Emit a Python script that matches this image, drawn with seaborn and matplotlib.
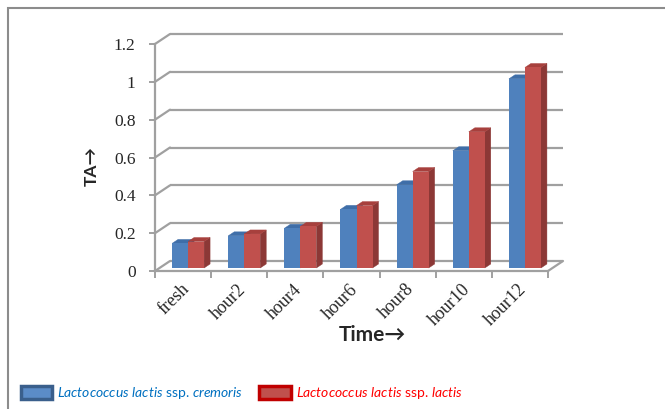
import numpy as np
import pandas as pd
import matplotlib
matplotlib.use('Agg')
import matplotlib.pyplot as plt
import matplotlib.transforms as mtransforms
import seaborn as sns
from matplotlib.patches import Polygon, Patch, Rectangle

# ============== data ==============
times = ['fresh', 'hour2', 'hour4', 'hour6', 'hour8', 'hour10', 'hour12']
cremoris = [0.13, 0.17, 0.21, 0.31, 0.44, 0.62, 1.00]
lactis = [0.14, 0.18, 0.22, 0.33, 0.51, 0.72, 1.06]
strains = ['cremoris', 'lactis']
yticks = [0, 0.2, 0.4, 0.6, 0.8, 1, 1.2]
ytick_labels = ['0', '0.2', '0.4', '0.6', '0.8', '1', '1.2']

df = pd.DataFrame({
    'time': times * 2,
    'TA': cremoris + lactis,
    'strain': ['cremoris'] * len(times) + ['lactis'] * len(times),
})

front = {'cremoris': '#4F81BD', 'lactis': '#C0504D'}
side = {'cremoris': '#385D8A', 'lactis': '#8C3836'}
top = {'cremoris': '#3F6EA8', 'lactis': '#A7403D'}
grid_c = '#A0A0A0'

sns.set_style('white')
plt.rcParams['mathtext.fontset'] = 'custom'
plt.rcParams['mathtext.it'] = 'Lato:italic'
plt.rcParams['mathtext.rm'] = 'Lato'

W, H = 665, 409
fig = plt.figure(figsize=(W / 100, H / 100), dpi=100)

# front plane of the pseudo-3D box, in pixels
x0, x1, y0, y1 = 155, 548, 271, 44
ax = fig.add_axes([x0 / W, 1 - y0 / H, (x1 - x0) / W, (y0 - y1) / H])
ax.patch.set_alpha(0)

sns.barplot(data=df, x='time', y='TA', hue='strain', hue_order=strains,
            palette=front, width=0.57, ax=ax, legend=False,
            saturation=1, linewidth=0, zorder=3)

ax.set_xlim(-0.5, len(times) - 0.5)
ax.set_ylim(0, 1.2)
sx = (x1 - x0) / len(times)     # px per category
sy = (y0 - y1) / 1.2            # px per TA unit

# back wall / floor offset
wdx, wdy = 15 / sx, 10 / sy
for t in yticks:
    ax.plot([-0.5 + wdx, len(times) - 0.5 + wdx], [t + wdy, t + wdy],
            color=grid_c, lw=1.6, clip_on=False, zorder=1,
            solid_capstyle='butt')
    ax.plot([-0.5, -0.5 + wdx], [t, t + wdy], color=grid_c, lw=1.6,
            clip_on=False, zorder=1)
ax.plot([len(times) - 0.5, len(times) - 0.5 + wdx], [0, wdy],
        color=grid_c, lw=1.6, clip_on=False, zorder=1)

# bar 3D faces (blue sits behind red within a cluster)
bdx, bdy = 6 / sx, 4 / sy
ox, oy = 5 / sx, 3 / sy
for i, p in enumerate(ax.patches):
    s = strains[i // len(times)]
    z = 2.5 if s == 'cremoris' else 3
    x, w, h = p.get_x(), p.get_width(), p.get_height()
    p.set_xy((x + ox, oy))
    p.set_edgecolor(front[s])
    p.set_zorder(z + 0.1)
    xr = x + ox + w
    ax.add_patch(Polygon([(xr, oy), (xr + bdx, oy + bdy),
                          (xr + bdx, h + oy + bdy), (xr, h + oy)],
                         closed=True, fc=side[s], ec=side[s], lw=0.3,
                         zorder=z, clip_on=False))
    ax.add_patch(Polygon([(x + ox, h + oy), (xr, h + oy),
                          (xr + bdx, h + oy + bdy), (x + ox + bdx, h + oy + bdy)],
                         closed=True, fc=top[s], ec=top[s], lw=0.3,
                         zorder=z, clip_on=False))

# axes and ticks
for sp in ['top', 'right']:
    ax.spines[sp].set_visible(False)
for sp in ['left', 'bottom']:
    ax.spines[sp].set_color(grid_c)
    ax.spines[sp].set_linewidth(1.6)
    ax.spines[sp].set_zorder(4)
ax.set_yticks(yticks)
ax.set_yticklabels(ytick_labels, family='Liberation Serif', fontsize=12.5)
ax.tick_params(axis='y', length=4, width=1.4, color=grid_c, pad=10,
               left=True)
ax.set_xticks(range(len(times)))
ax.set_xticklabels(times, family='Liberation Serif', fontsize=13,
                   rotation=45, ha='right', rotation_mode='anchor')
ax.tick_params(axis='x', length=0, pad=7)
shift = mtransforms.ScaledTranslation(-2 / 100, 0, fig.dpi_scale_trans)
for lab in ax.get_xticklabels():
    lab.set_transform(lab.get_transform() + shift)
ax.set_xticks(np.arange(-0.5, len(times)), minor=True)
ax.tick_params(axis='x', which='minor', length=5, width=1.4, color=grid_c,
               bottom=True)
ax.set_xlabel('')
ax.set_ylabel('')

fig.text(372 / W, 1 - 335 / H, 'Time→', ha='center', va='center',
         fontsize=15, fontweight='bold', family=['Lato', 'DejaVu Sans'])
fig.text(92 / W, 1 - 166 / H, 'TA→', ha='center', va='center', rotation=90,
         fontsize=12.5, fontweight='bold', family=['Lato', 'DejaVu Sans'])

# legend
handles = [Patch(fc='#5B8CC8', ec='#3A5F8C', lw=2.5),
           Patch(fc='#C0504D', ec='#C00000', lw=2.5)]
labels = [r'$\mathit{Lactococcus\ lactis}$ ssp. $\mathit{cremoris}$',
          r'$\mathit{Lactococcus\ lactis}$ ssp. $\mathit{lactis}$']
leg = fig.legend(handles, labels, loc='center left', ncol=2,
                 bbox_to_anchor=(8 / W, 1 - 393 / H), frameon=False,
                 prop={'family': 'Lato', 'size': 10.0}, handlelength=2.3,
                 handleheight=1.05, handletextpad=0.35, columnspacing=1.1)
for txt, c in zip(leg.get_texts(), ['#0070C0', '#FF0000']):
    txt.set_color(c)

# chart frame
fig.add_artist(Rectangle((8 / W, -0.05), 1.1, 1 - 8 / H + 0.05,
                         transform=fig.transFigure, fill=False,
                         ec='#8C8C8C', lw=1.5))

fig.savefig('out.png', dpi=100)
